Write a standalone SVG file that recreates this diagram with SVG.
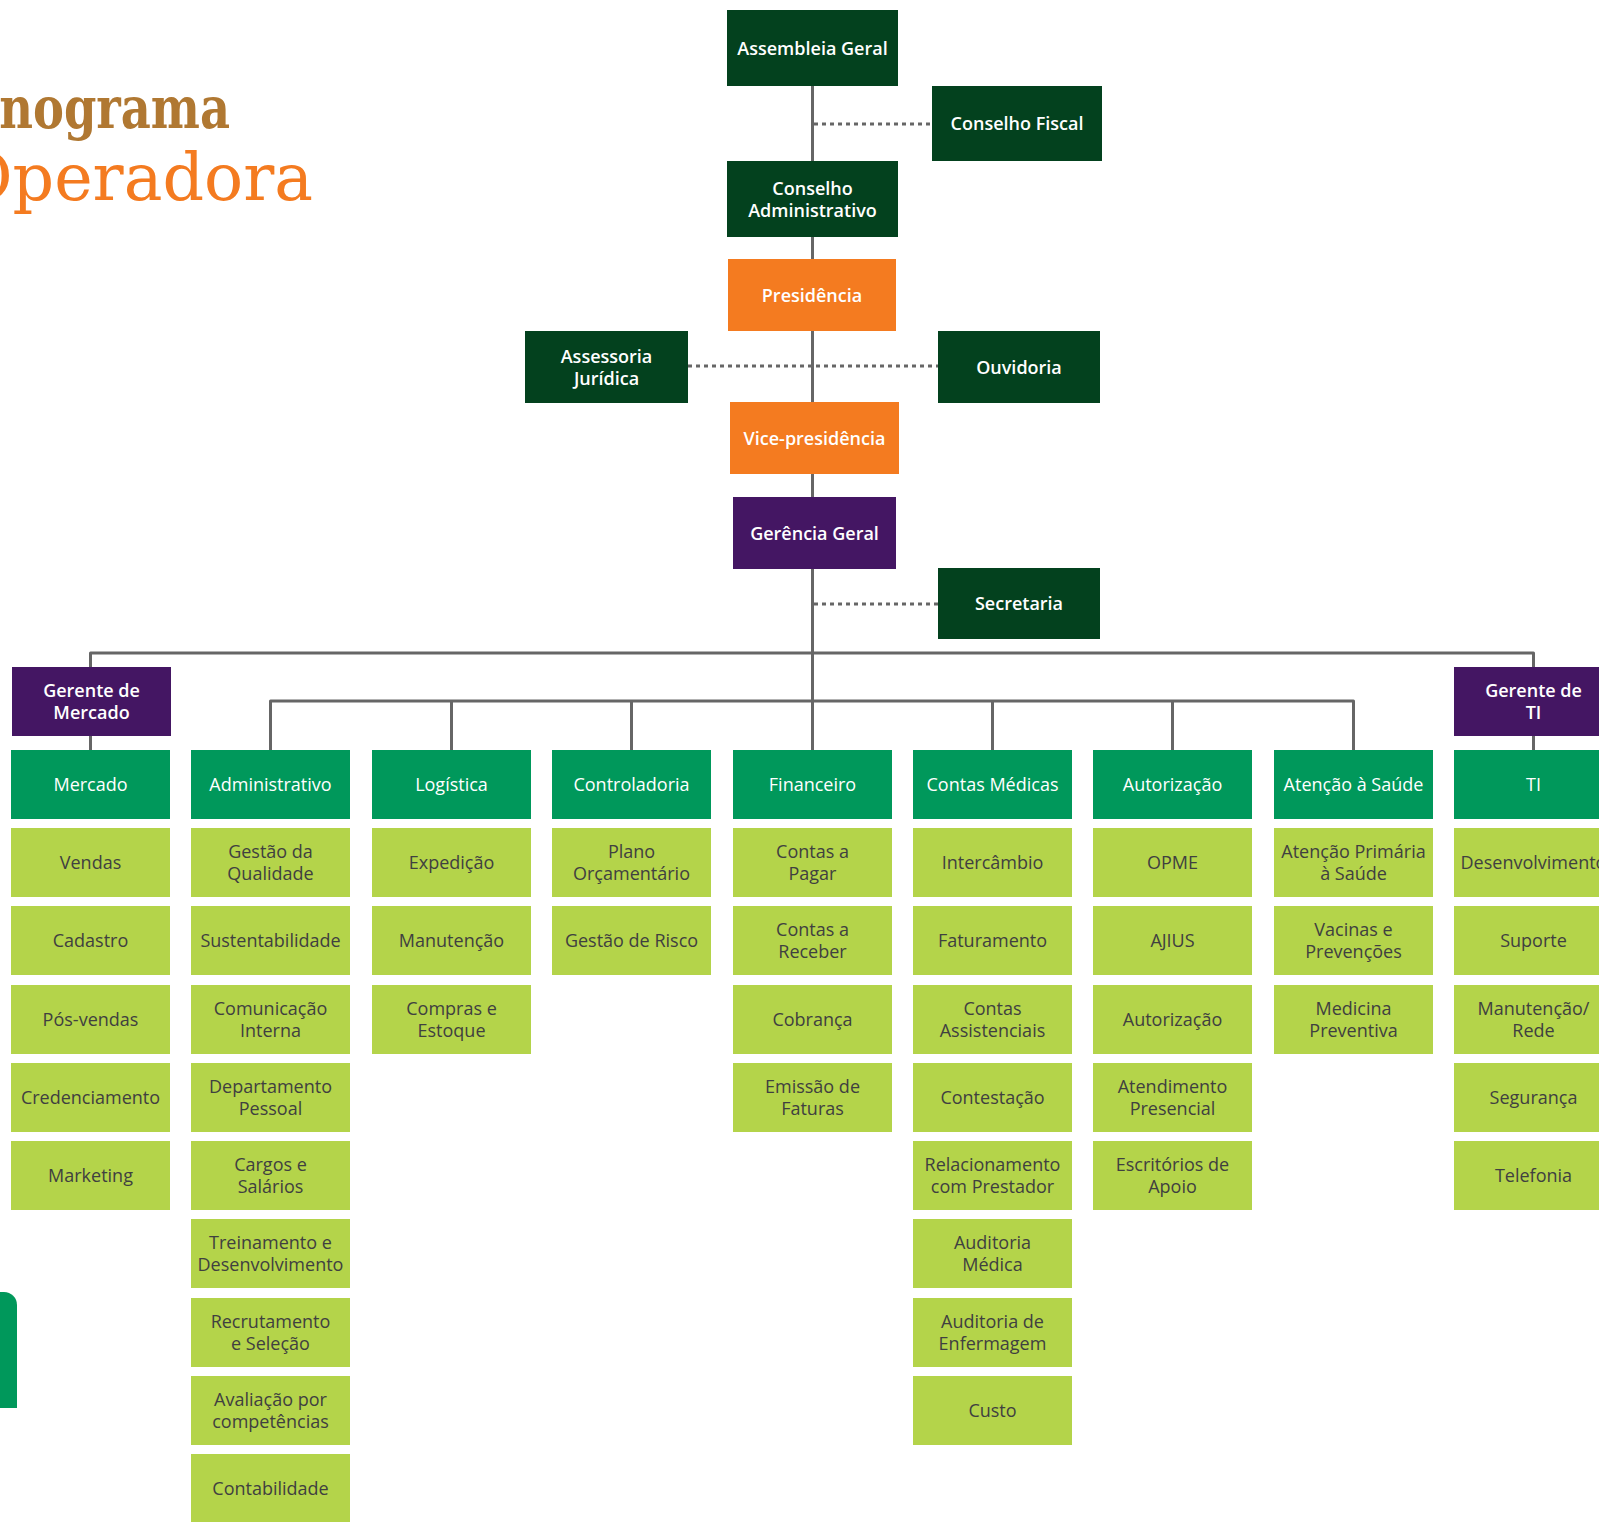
<svg xmlns="http://www.w3.org/2000/svg" width="1599" height="1522" viewBox="0 0 1599 1522">
<style>
  .dg{fill:#03411e}
  .or{fill:#f47b20}
  .pu{fill:#441663}
  .mg{fill:#00985b}
  .lg{fill:#b4d44a}
  text{font-family:"Open Sans","Noto Sans",sans-serif;font-size:18px;text-anchor:middle}
  .tb{fill:#ffffff;font-weight:600}
  .tw{fill:#ffffff}
  .td{fill:#404040}
  .ln{fill:none;stroke:#666666;stroke-width:3;stroke-linejoin:round}
  .dt{fill:none;stroke:#666666;stroke-width:3;stroke-dasharray:4 4}
</style>
<rect width="1599" height="1522" fill="#ffffff"/>
<g id="title">
  <text x="230" y="128" style="font-family:'DejaVu Serif',serif;font-weight:bold;font-size:58px;text-anchor:end;fill:#b07832" transform="translate(230,0) scale(0.8,1) translate(-230,0)">Organograma</text>
  <text x="313" y="200" style="font-family:'DejaVu Serif',serif;font-size:65px;text-anchor:end;fill:#f47b20">Operadora</text>
</g>
<path id="green-bar" d="M-5,1292 H4 A13,13 0 0 1 17,1305 V1408 H-5 Z" fill="#00985b"/>
<g id="connectors">
  <path class="ln" d="M812.5,86 V750"/>
  <path class="dt" d="M814,124 H932"/>
  <path class="dt" d="M688,366 H938"/>
  <path class="dt" d="M814,604 H938"/>
  <path class="ln" d="M90.5,667 V653 H1533.5 V667"/>
  <path class="ln" d="M90.5,736 V750"/>
  <path class="ln" d="M1533.5,736 V750"/>
  <path class="ln" d="M270.5,750 V701 H1353.5 V750"/>
  <path class="ln" d="M451.5,701 V750 M631.5,701 V750 M992.5,701 V750 M1172.5,701 V750"/>
</g>
<g id="assembleia-geral"><rect class="dg" x="727" y="10" width="171" height="76"/><text class="tb" x="812.5" y="54.5">Assembleia Geral</text></g>
<g id="conselho-fiscal"><rect class="dg" x="932" y="86" width="170" height="75"/><text class="tb" x="1017" y="130">Conselho Fiscal</text></g>
<g id="conselho-administrativo"><rect class="dg" x="727" y="161" width="171" height="76"/><text class="tb" x="812.5" y="194.5">Conselho</text><text class="tb" x="812.5" y="216.5">Administrativo</text></g>
<g id="presidencia"><rect class="or" x="728" y="259" width="168" height="72"/><text class="tb" x="812" y="301.5">Presidência</text></g>
<g id="assessoria-juridica"><rect class="dg" x="525" y="331" width="163" height="72"/><text class="tb" x="606.5" y="362.5">Assessoria</text><text class="tb" x="606.5" y="384.5">Jurídica</text></g>
<g id="ouvidoria"><rect class="dg" x="938" y="331" width="162" height="72"/><text class="tb" x="1019" y="373.5">Ouvidoria</text></g>
<g id="vice-presidencia"><rect class="or" x="730" y="402" width="169" height="72"/><text class="tb" x="814.5" y="444.5">Vice-presidência</text></g>
<g id="gerencia-geral"><rect class="pu" x="733" y="497" width="163" height="72"/><text class="tb" x="814.5" y="539.5">Gerência Geral</text></g>
<g id="secretaria"><rect class="dg" x="938" y="568" width="162" height="71"/><text class="tb" x="1019" y="610">Secretaria</text></g>
<g id="gerente-mercado"><rect class="pu" x="12" y="667" width="159" height="69"/><text class="tb" x="91.5" y="696.5">Gerente de</text><text class="tb" x="91.5" y="718.5">Mercado</text></g>
<g id="gerente-ti"><rect class="pu" x="1454" y="667" width="159" height="69"/><text class="tb" x="1533.5" y="696.5">Gerente de</text><text class="tb" x="1533.5" y="718.5">TI</text></g>

<g id="col-mercado">
  <g id="mercado"><rect class="mg" x="11" y="750" width="159" height="69"/><text class="tw" x="90.5" y="791">Mercado</text></g>
  <g id="vendas"><rect class="lg" x="11" y="828" width="159" height="69"/><text class="td" x="90.5" y="869">Vendas</text></g>
  <g id="cadastro"><rect class="lg" x="11" y="906" width="159" height="69"/><text class="td" x="90.5" y="947">Cadastro</text></g>
  <g id="pos-vendas"><rect class="lg" x="11" y="985" width="159" height="69"/><text class="td" x="90.5" y="1026">Pós-vendas</text></g>
  <g id="credenciamento"><rect class="lg" x="11" y="1063" width="159" height="69"/><text class="td" x="90.5" y="1104">Credenciamento</text></g>
  <g id="marketing"><rect class="lg" x="11" y="1141" width="159" height="69"/><text class="td" x="90.5" y="1182">Marketing</text></g>
</g>
<g id="col-administrativo">
  <g id="administrativo"><rect class="mg" x="191" y="750" width="159" height="69"/><text class="tw" x="270.5" y="791">Administrativo</text></g>
  <g id="gestao-qualidade"><rect class="lg" x="191" y="828" width="159" height="69"/><text class="td" x="270.5" y="858">Gestão da</text><text class="td" x="270.5" y="880">Qualidade</text></g>
  <g id="sustentabilidade"><rect class="lg" x="191" y="906" width="159" height="69"/><text class="td" x="270.5" y="947">Sustentabilidade</text></g>
  <g id="comunicacao-interna"><rect class="lg" x="191" y="985" width="159" height="69"/><text class="td" x="270.5" y="1015">Comunicação</text><text class="td" x="270.5" y="1037">Interna</text></g>
  <g id="departamento-pessoal"><rect class="lg" x="191" y="1063" width="159" height="69"/><text class="td" x="270.5" y="1093">Departamento</text><text class="td" x="270.5" y="1115">Pessoal</text></g>
  <g id="cargos-salarios"><rect class="lg" x="191" y="1141" width="159" height="69"/><text class="td" x="270.5" y="1171">Cargos e</text><text class="td" x="270.5" y="1193">Salários</text></g>
  <g id="treinamento"><rect class="lg" x="191" y="1219" width="159" height="69"/><text class="td" x="270.5" y="1249">Treinamento e</text><text class="td" x="270.5" y="1271">Desenvolvimento</text></g>
  <g id="recrutamento"><rect class="lg" x="191" y="1298" width="159" height="69"/><text class="td" x="270.5" y="1328">Recrutamento</text><text class="td" x="270.5" y="1350">e Seleção</text></g>
  <g id="avaliacao"><rect class="lg" x="191" y="1376" width="159" height="69"/><text class="td" x="270.5" y="1406">Avaliação por</text><text class="td" x="270.5" y="1428">competências</text></g>
  <g id="contabilidade"><rect class="lg" x="191" y="1454" width="159" height="69"/><text class="td" x="270.5" y="1495">Contabilidade</text></g>
</g>
<g id="col-logistica">
  <g id="logistica"><rect class="mg" x="372" y="750" width="159" height="69"/><text class="tw" x="451.5" y="791">Logística</text></g>
  <g id="expedicao"><rect class="lg" x="372" y="828" width="159" height="69"/><text class="td" x="451.5" y="869">Expedição</text></g>
  <g id="manutencao"><rect class="lg" x="372" y="906" width="159" height="69"/><text class="td" x="451.5" y="947">Manutenção</text></g>
  <g id="compras-estoque"><rect class="lg" x="372" y="985" width="159" height="69"/><text class="td" x="451.5" y="1015">Compras e</text><text class="td" x="451.5" y="1037">Estoque</text></g>
</g>
<g id="col-controladoria">
  <g id="controladoria"><rect class="mg" x="552" y="750" width="159" height="69"/><text class="tw" x="631.5" y="791">Controladoria</text></g>
  <g id="plano-orcamentario"><rect class="lg" x="552" y="828" width="159" height="69"/><text class="td" x="631.5" y="858">Plano</text><text class="td" x="631.5" y="880">Orçamentário</text></g>
  <g id="gestao-risco"><rect class="lg" x="552" y="906" width="159" height="69"/><text class="td" x="631.5" y="947">Gestão de Risco</text></g>
</g>
<g id="col-financeiro">
  <g id="financeiro"><rect class="mg" x="733" y="750" width="159" height="69"/><text class="tw" x="812.5" y="791">Financeiro</text></g>
  <g id="contas-pagar"><rect class="lg" x="733" y="828" width="159" height="69"/><text class="td" x="812.5" y="858">Contas a</text><text class="td" x="812.5" y="880">Pagar</text></g>
  <g id="contas-receber"><rect class="lg" x="733" y="906" width="159" height="69"/><text class="td" x="812.5" y="936">Contas a</text><text class="td" x="812.5" y="958">Receber</text></g>
  <g id="cobranca"><rect class="lg" x="733" y="985" width="159" height="69"/><text class="td" x="812.5" y="1026">Cobrança</text></g>
  <g id="emissao-faturas"><rect class="lg" x="733" y="1063" width="159" height="69"/><text class="td" x="812.5" y="1093">Emissão de</text><text class="td" x="812.5" y="1115">Faturas</text></g>
</g>
<g id="col-contas-medicas">
  <g id="contas-medicas"><rect class="mg" x="913" y="750" width="159" height="69"/><text class="tw" x="992.5" y="791">Contas Médicas</text></g>
  <g id="intercambio"><rect class="lg" x="913" y="828" width="159" height="69"/><text class="td" x="992.5" y="869">Intercâmbio</text></g>
  <g id="faturamento"><rect class="lg" x="913" y="906" width="159" height="69"/><text class="td" x="992.5" y="947">Faturamento</text></g>
  <g id="contas-assistenciais"><rect class="lg" x="913" y="985" width="159" height="69"/><text class="td" x="992.5" y="1015">Contas</text><text class="td" x="992.5" y="1037">Assistenciais</text></g>
  <g id="contestacao"><rect class="lg" x="913" y="1063" width="159" height="69"/><text class="td" x="992.5" y="1104">Contestação</text></g>
  <g id="relacionamento"><rect class="lg" x="913" y="1141" width="159" height="69"/><text class="td" x="992.5" y="1171">Relacionamento</text><text class="td" x="992.5" y="1193">com Prestador</text></g>
  <g id="auditoria-medica"><rect class="lg" x="913" y="1219" width="159" height="69"/><text class="td" x="992.5" y="1249">Auditoria</text><text class="td" x="992.5" y="1271">Médica</text></g>
  <g id="auditoria-enfermagem"><rect class="lg" x="913" y="1298" width="159" height="69"/><text class="td" x="992.5" y="1328">Auditoria de</text><text class="td" x="992.5" y="1350">Enfermagem</text></g>
  <g id="custo"><rect class="lg" x="913" y="1376" width="159" height="69"/><text class="td" x="992.5" y="1417">Custo</text></g>
</g>
<g id="col-autorizacao">
  <g id="autorizacao-head"><rect class="mg" x="1093" y="750" width="159" height="69"/><text class="tw" x="1172.5" y="791">Autorização</text></g>
  <g id="opme"><rect class="lg" x="1093" y="828" width="159" height="69"/><text class="td" x="1172.5" y="869">OPME</text></g>
  <g id="ajius"><rect class="lg" x="1093" y="906" width="159" height="69"/><text class="td" x="1172.5" y="947">AJIUS</text></g>
  <g id="autorizacao"><rect class="lg" x="1093" y="985" width="159" height="69"/><text class="td" x="1172.5" y="1026">Autorização</text></g>
  <g id="atendimento-presencial"><rect class="lg" x="1093" y="1063" width="159" height="69"/><text class="td" x="1172.5" y="1093">Atendimento</text><text class="td" x="1172.5" y="1115">Presencial</text></g>
  <g id="escritorios-apoio"><rect class="lg" x="1093" y="1141" width="159" height="69"/><text class="td" x="1172.5" y="1171">Escritórios de</text><text class="td" x="1172.5" y="1193">Apoio</text></g>
</g>
<g id="col-atencao-saude">
  <g id="atencao-saude"><rect class="mg" x="1274" y="750" width="159" height="69"/><text class="tw" x="1353.5" y="791">Atenção à Saúde</text></g>
  <g id="atencao-primaria"><rect class="lg" x="1274" y="828" width="159" height="69"/><text class="td" x="1353.5" y="858">Atenção Primária</text><text class="td" x="1353.5" y="880">à Saúde</text></g>
  <g id="vacinas"><rect class="lg" x="1274" y="906" width="159" height="69"/><text class="td" x="1353.5" y="936">Vacinas e</text><text class="td" x="1353.5" y="958">Prevenções</text></g>
  <g id="medicina-preventiva"><rect class="lg" x="1274" y="985" width="159" height="69"/><text class="td" x="1353.5" y="1015">Medicina</text><text class="td" x="1353.5" y="1037">Preventiva</text></g>
</g>
<g id="col-ti">
  <g id="ti"><rect class="mg" x="1454" y="750" width="159" height="69"/><text class="tw" x="1533.5" y="791">TI</text></g>
  <g id="desenvolvimento"><rect class="lg" x="1454" y="828" width="159" height="69"/><text class="td" x="1533.5" y="869">Desenvolvimento</text></g>
  <g id="suporte"><rect class="lg" x="1454" y="906" width="159" height="69"/><text class="td" x="1533.5" y="947">Suporte</text></g>
  <g id="manutencao-rede"><rect class="lg" x="1454" y="985" width="159" height="69"/><text class="td" x="1533.5" y="1015">Manutenção/</text><text class="td" x="1533.5" y="1037">Rede</text></g>
  <g id="seguranca"><rect class="lg" x="1454" y="1063" width="159" height="69"/><text class="td" x="1533.5" y="1104">Segurança</text></g>
  <g id="telefonia"><rect class="lg" x="1454" y="1141" width="159" height="69"/><text class="td" x="1533.5" y="1182">Telefonia</text></g>
</g>
</svg>
